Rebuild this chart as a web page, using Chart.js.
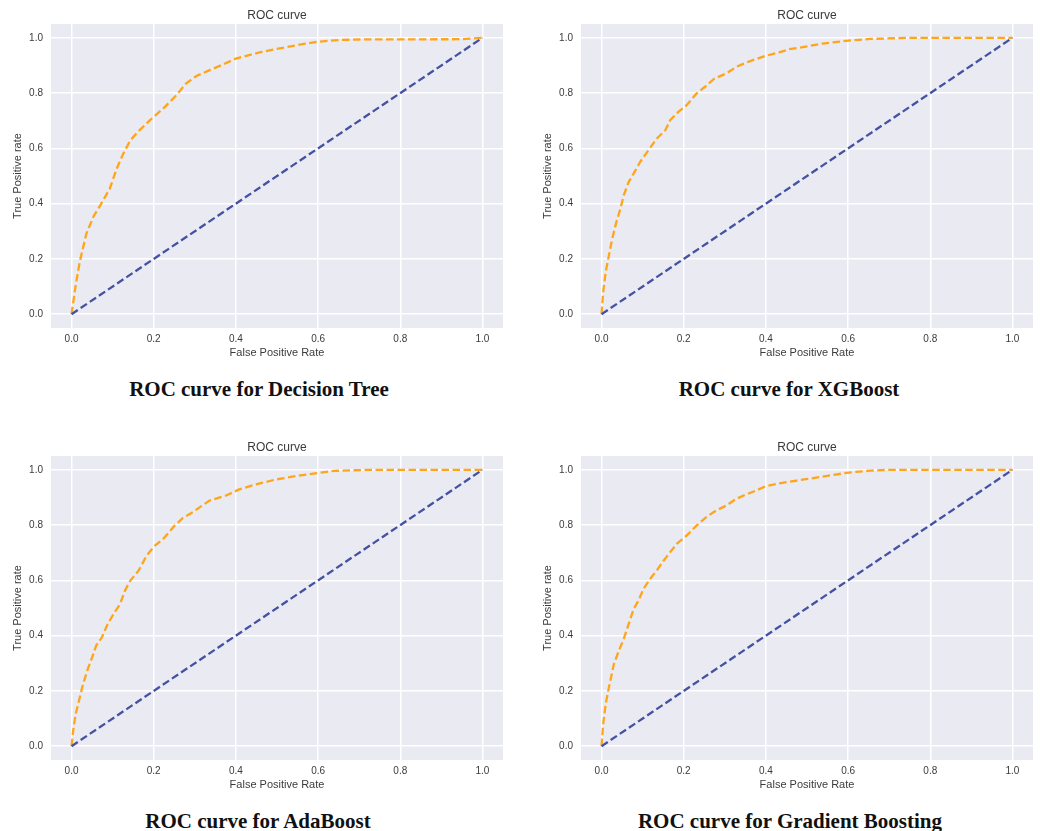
<!DOCTYPE html>
<html>
<head>
<meta charset="utf-8">
<script src="https://cdn.jsdelivr.net/npm/chart.js@4.4.1/dist/chart.umd.min.js"></script>
<style>
  html, body { margin: 0; padding: 0; background: #ffffff; width: 1040px; height: 831px; overflow: hidden; }
  canvas { position: absolute; }
  .cap { position: absolute; width: 520px; text-align: center; font-family: "Liberation Serif", serif; font-weight: bold; font-size: 21px; line-height: 21px; color: #111; white-space: nowrap; }
</style>
</head>
<body>
<canvas id="c0" width="520" height="365" style="left:0px;top:0px"></canvas>
<canvas id="c1" width="510" height="365" style="left:530px;top:0px"></canvas>
<canvas id="c2" width="520" height="365" style="left:0px;top:432px"></canvas>
<canvas id="c3" width="510" height="365" style="left:530px;top:432px"></canvas>
<div class="cap" id="t0" style="left:-1px;top:379px"></div>
<div class="cap" id="t1" style="left:529px;top:379px"></div>
<div class="cap" id="t2" style="left:-2px;top:811px"></div>
<div class="cap" id="t3" style="left:530px;top:811px"></div>
<script>
// ---- data ----
const xTickValues = [0.0, 0.2, 0.4, 0.6, 0.8, 1.0];
const yTickValues = [0.0, 0.2, 0.4, 0.6, 0.8, 1.0];
const chanceX = [0, 1];
const chanceY = [0, 1];

const dtFpr = [0, 0.010, 0.020, 0.036, 0.054, 0.070, 0.093, 0.110, 0.126, 0.143, 0.165, 0.191, 0.223, 0.255, 0.279, 0.304, 0.336, 0.368, 0.400, 0.457, 0.521, 0.569, 0.601, 0.650, 0.700, 0.950, 1.0];
const dtTpr = [0, 0.104, 0.190, 0.291, 0.355, 0.394, 0.454, 0.527, 0.581, 0.629, 0.665, 0.702, 0.744, 0.792, 0.835, 0.862, 0.883, 0.903, 0.925, 0.947, 0.966, 0.979, 0.986, 0.992, 0.994, 0.995, 1.0];

const xgFpr = [0, 0.004, 0.010, 0.018, 0.026, 0.036, 0.046, 0.054, 0.066, 0.080, 0.094, 0.114, 0.134, 0.155, 0.167, 0.187, 0.207, 0.231, 0.251, 0.275, 0.304, 0.328, 0.360, 0.400, 0.432, 0.457, 0.489, 0.537, 0.601, 0.654, 0.750, 1.0];
const xgTpr = [0, 0.080, 0.152, 0.213, 0.273, 0.333, 0.382, 0.430, 0.478, 0.514, 0.551, 0.593, 0.635, 0.665, 0.702, 0.732, 0.756, 0.798, 0.822, 0.853, 0.871, 0.895, 0.915, 0.935, 0.947, 0.959, 0.966, 0.979, 0.990, 0.996, 1.0, 1.0];

const adFpr = [0, 0.004, 0.010, 0.018, 0.026, 0.038, 0.050, 0.060, 0.074, 0.086, 0.102, 0.118, 0.130, 0.143, 0.163, 0.183, 0.203, 0.223, 0.251, 0.271, 0.295, 0.336, 0.376, 0.408, 0.448, 0.497, 0.553, 0.601, 0.638, 0.720, 1.0];
const adTpr = [0, 0.056, 0.116, 0.164, 0.213, 0.273, 0.321, 0.364, 0.394, 0.436, 0.478, 0.514, 0.563, 0.599, 0.635, 0.690, 0.726, 0.750, 0.798, 0.826, 0.847, 0.889, 0.907, 0.929, 0.947, 0.965, 0.979, 0.989, 0.996, 1.0, 1.0];

const gbFpr = [0, 0.004, 0.010, 0.018, 0.030, 0.042, 0.054, 0.066, 0.078, 0.090, 0.102, 0.118, 0.134, 0.151, 0.167, 0.183, 0.207, 0.231, 0.255, 0.279, 0.304, 0.328, 0.352, 0.376, 0.400, 0.440, 0.497, 0.553, 0.601, 0.654, 0.700, 1.0];
const gbTpr = [0, 0.080, 0.152, 0.213, 0.297, 0.345, 0.388, 0.442, 0.496, 0.527, 0.569, 0.605, 0.635, 0.671, 0.702, 0.732, 0.762, 0.798, 0.829, 0.853, 0.871, 0.895, 0.911, 0.925, 0.941, 0.953, 0.966, 0.979, 0.990, 0.997, 1.0, 1.0];

const chartTitle = "ROC curve";
const xAxisLabel = "False Positive Rate";
const yAxisLabel = "True Positive rate";
const captions = ["ROC curve for Decision Tree", "ROC curve for XGBoost", "ROC curve for AdaBoost", "ROC curve for Gradient Boosting"];

// ---- rendering ----
const models = [[dtFpr, dtTpr], [xgFpr, xgTpr], [adFpr, adTpr], [gbFpr, gbTpr]];
const rightPad = [17, 7, 17, 7];
const textColor = '#3b3b3b';
const toPts = (xs, ys) => xs.map((x, i) => ({x: x, y: ys[i]}));

const bgPlugin = {
  id: 'plotBg',
  beforeDraw(chart) {
    const {ctx, chartArea: a} = chart;
    ctx.save();
    ctx.fillStyle = '#eaeaf2';
    ctx.fillRect(a.left, a.top, a.right - a.left, a.bottom - a.top);
    ctx.restore();
  }
};

models.forEach((m, idx) => {
  document.getElementById('t' + idx).textContent = captions[idx];
  new Chart(document.getElementById('c' + idx), {
    type: 'scatter',
    data: {
      datasets: [
        {
          data: toPts(chanceX, chanceY),
          showLine: true,
          borderColor: '#4352a3',
          borderWidth: 2.3,
          borderDash: [7.5, 3.5],
          pointRadius: 0,
          fill: false
        },
        {
          data: toPts(m[0], m[1]),
          showLine: true,
          borderColor: '#ffa51c',
          borderWidth: 2.3,
          borderDash: [7.5, 3.5],
          pointRadius: 0,
          fill: false,
          tension: 0
        }
      ]
    },
    options: {
      responsive: false,
      animation: false,
      devicePixelRatio: 1,
      layout: { padding: { left: 0, right: rightPad[idx], top: 0, bottom: 0 } },
      plugins: {
        legend: { display: false },
        tooltip: { enabled: false },
        title: {
          display: true,
          text: chartTitle,
          fullSize: false,
          color: textColor,
          font: { family: '"Liberation Sans", Arial, sans-serif', size: 12, weight: 'normal', lineHeight: 1.2 },
          padding: { top: 8.2, bottom: 1.4 }
        }
      },
      scales: {
        x: {
          type: 'linear',
          min: -0.05,
          max: 1.05,
          afterBuildTicks: (s) => { s.ticks = xTickValues.map(v => ({value: v})); },
          afterFit: (s) => { s.height = 37; },
          ticks: {
            color: textColor,
            padding: 5,
            maxRotation: 0,
            font: { family: '"Liberation Sans", Arial, sans-serif', size: 10 },
            callback: (v) => Number(v).toFixed(1)
          },
          grid: { color: '#ffffff', lineWidth: 1.5, drawTicks: false },
          border: { display: false },
          title: {
            display: true,
            text: xAxisLabel,
            color: textColor,
            font: { family: '"Liberation Sans", Arial, sans-serif', size: 11, lineHeight: 1.2 },
            padding: { top: 0, bottom: 5.4 }
          }
        },
        y: {
          type: 'linear',
          min: -0.05,
          max: 1.05,
          afterBuildTicks: (s) => { s.ticks = yTickValues.map(v => ({value: v})); },
          afterFit: (s) => { s.width = 51; },
          ticks: {
            color: textColor,
            padding: 8,
            font: { family: '"Liberation Sans", Arial, sans-serif', size: 10 },
            callback: (v) => Number(v).toFixed(1)
          },
          grid: { color: '#ffffff', lineWidth: 1.5, drawTicks: false },
          border: { display: false },
          title: {
            display: true,
            text: yAxisLabel,
            color: textColor,
            font: { family: '"Liberation Sans", Arial, sans-serif', size: 11, lineHeight: 1.2 },
            padding: { top: 11.4, bottom: 0 }
          }
        }
      }
    },
    plugins: [bgPlugin]
  });
});
</script>
</body>
</html>
